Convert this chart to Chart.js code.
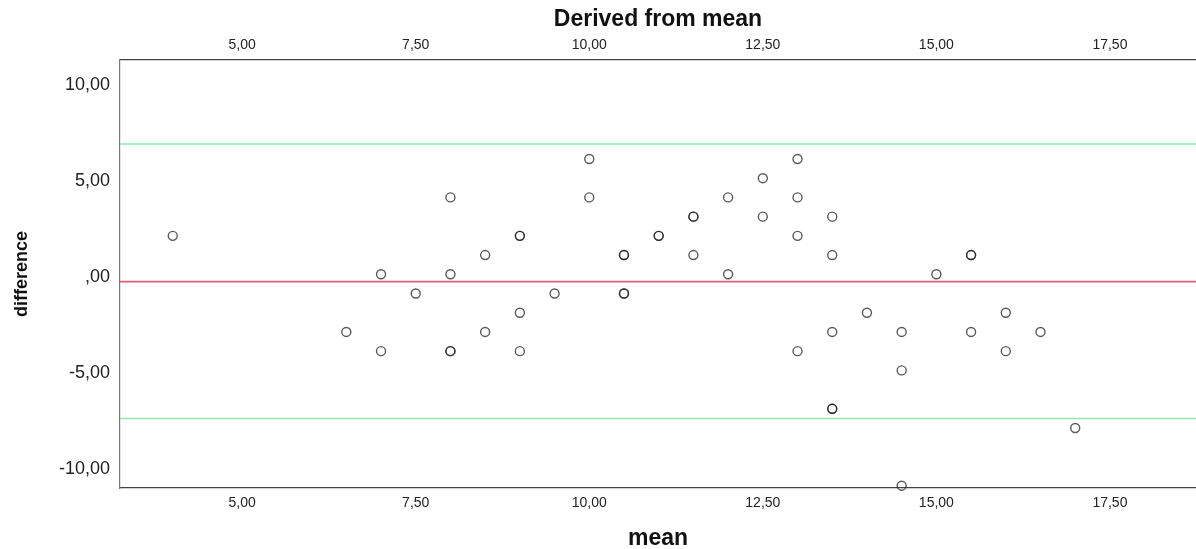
<!DOCTYPE html>
<html>
<head>
<meta charset="utf-8">
<script src="https://cdn.jsdelivr.net/npm/chart.js@4/dist/chart.umd.min.js"></script>
<style>
  html, body { margin: 0; padding: 0; background: #ffffff; }
  #wrap { width: 1196px; height: 549px; position: relative; }
</style>
</head>
<body>
<div id="wrap"><canvas id="c" width="1196" height="549"></canvas></div>
<script>
// ---- data (Bland-Altman style plot) ----
const meanValues = [
  4, 6.5, 7, 7, 7.5, 8, 8, 8, 8, 8.5, 8.5, 9, 9, 9, 9, 9.5,
  10, 10, 10.5, 10.5, 10.5, 10.5, 11, 11, 11.5, 11.5, 11.5, 12, 12,
  12.5, 12.5, 13, 13, 13, 13, 13.5, 13.5, 13.5, 13.5, 13.5,
  14, 14.5, 14.5, 14.5, 15, 15.5, 15.5, 15.5, 16, 16, 16.5, 17
];
const differenceValues = [
  2, -3, 0, -4, -1, 4, 0, -4, -4, 1, -3, 2, 2, -2, -4, -1,
  6, 4, 1, 1, -1, -1, 2, 2, 3, 3, 1, 4, 0,
  5, 3, 6, 4, 2, -4, 3, 1, -3, -7, -7,
  -2, -3, -5, -11, 0, 1, 1, -3, -2, -4, -3, -8
];
const meanDifference = -0.38;
const upperLimit = 6.78;
const lowerLimit = -7.5;
const xRange = [3.24, 18.74];
const yRange = [-11.12, 11.15];
const xTicks = [5, 7.5, 10, 12.5, 15, 17.5];
const yTicks = [10, 5, 0, -5, -10];

function fmt(v) {
  let s = Math.abs(v).toFixed(2).replace('.', ',');
  if (s.startsWith('0,')) s = s.slice(1);
  return (v < 0 ? '-' : '') + s;
}

const points = meanValues.map((m, i) => ({ x: m, y: differenceValues[i] }));
const hline = (v) => [{ x: xRange[0], y: v }, { x: xRange[1], y: v }];

const FONT = "'Liberation Sans', Arial, sans-serif";

new Chart(document.getElementById('c'), {
  type: 'scatter',
  data: {
    datasets: [
      {
        label: 'points',
        data: points,
        showLine: false,
        pointStyle: 'circle',
        pointRadius: 4.5,
        pointHoverRadius: 4.5,
        pointBorderWidth: 1.4,
        pointBorderColor: 'rgba(35,35,35,0.75)',
        pointBackgroundColor: 'rgba(255,255,255,0)',
        clip: false,
        order: 1
      },
      {
        type: 'line', label: 'upper', data: hline(upperLimit),
        borderColor: '#8fe8a9', borderWidth: 1.6, pointRadius: 0, order: 2
      },
      {
        type: 'line', label: 'mean', data: hline(meanDifference),
        borderColor: '#df5f7d', borderWidth: 1.6, pointRadius: 0, order: 2
      },
      {
        type: 'line', label: 'lower', data: hline(lowerLimit),
        borderColor: '#8fe8a9', borderWidth: 1.6, pointRadius: 0, order: 2
      }
    ]
  },
  options: {
    responsive: false,
    animation: false,
    devicePixelRatio: 1,
    layout: { padding: 0, autoPadding: false },
    plugins: { legend: { display: false }, tooltip: { enabled: false } },
    events: [],
    scales: {
      x: {
        type: 'linear', position: 'bottom', min: xRange[0], max: xRange[1],
        grid: { display: false, drawTicks: false },
        border: { display: true, color: '#444', width: 1.2 },
        afterBuildTicks: s => { s.ticks = xTicks.map(v => ({ value: v })); },
        afterFit: s => { s.height = 61; },
        ticks: { padding: 7, color: '#222', font: { family: FONT, size: 14 }, callback: v => fmt(v), maxRotation: 0 },
        title: { display: true, text: 'mean', color: '#111', font: { family: FONT, size: 23, weight: 'bold' }, padding: { top: 0, bottom: -3 } }
      },
      x2: {
        type: 'linear', position: 'top', axis: 'x', min: xRange[0], max: xRange[1],
        grid: { display: false, drawTicks: false },
        border: { display: true, color: '#444', width: 1.2 },
        afterBuildTicks: s => { s.ticks = xTicks.map(v => ({ value: v })); },
        afterFit: s => { s.height = 60; },
        ticks: { padding: 6, color: '#222', font: { family: FONT, size: 14 }, callback: v => fmt(v), maxRotation: 0 },
        title: { display: true, text: 'Derived from mean', color: '#111', font: { family: FONT, size: 23, weight: 'bold' }, padding: { top: 6, bottom: 0 } }
      },
      y: {
        type: 'linear', position: 'left', min: yRange[0], max: yRange[1],
        grid: { display: false, drawTicks: false },
        border: { display: true, color: '#777', width: 1.2 },
        afterBuildTicks: s => { s.ticks = yTicks.map(v => ({ value: v })); },
        afterFit: s => { s.width = 120; },
        ticks: { padding: 10, labelOffset: 3, color: '#222', font: { family: FONT, size: 18 }, callback: v => fmt(v) },
        title: { display: true, text: 'difference', color: '#111', font: { family: FONT, size: 18, weight: 'bold' }, padding: { top: 11, bottom: 0 } }
      }
    }
  }
});
</script>
</body>
</html>
